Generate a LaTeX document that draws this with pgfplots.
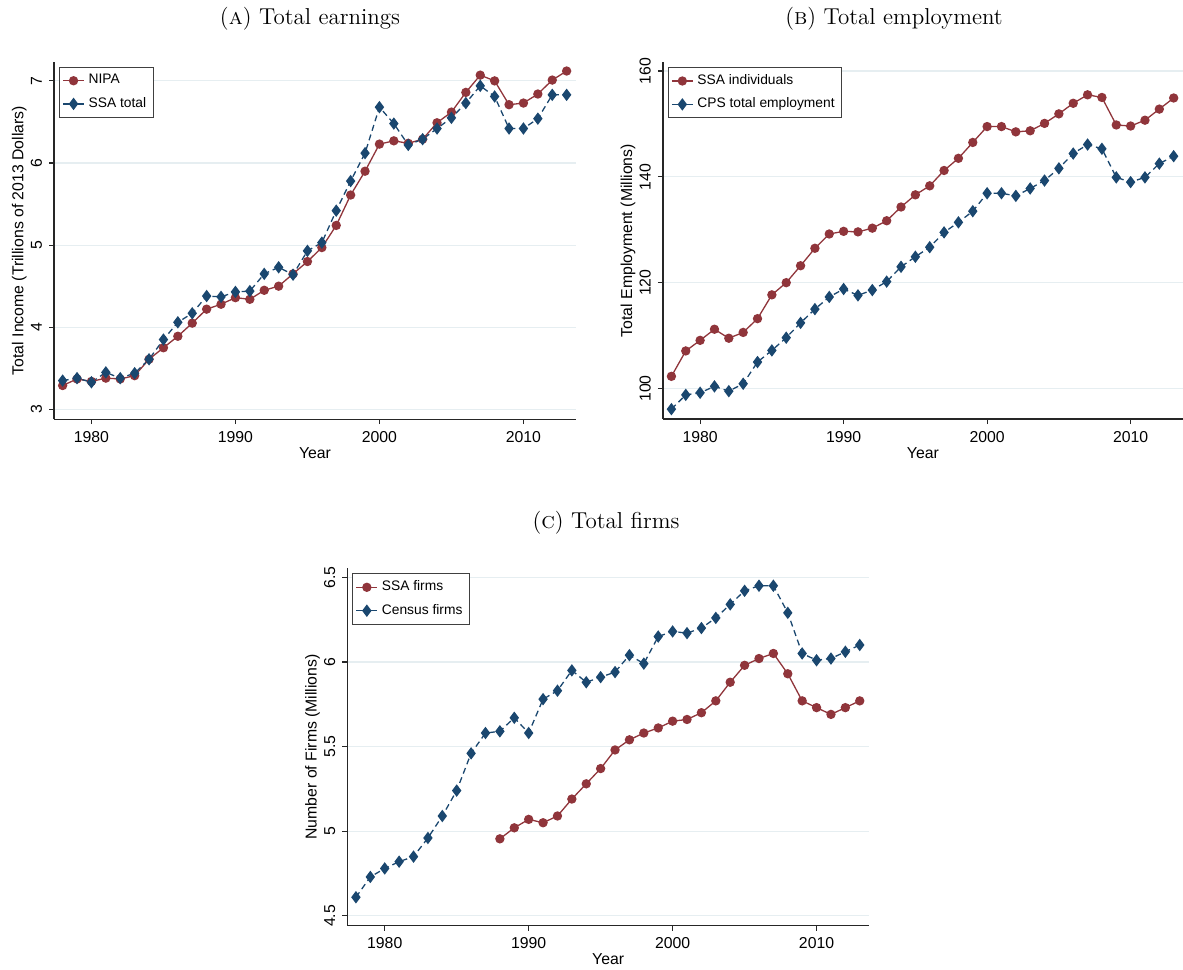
\documentclass[border=0pt]{standalone}
\usepackage{fontspec}
\setsansfont{Liberation Sans}
\usepackage{pgfplots}
\pgfplotsset{compat=1.18}
\definecolor{sred}{RGB}{144,53,59}
\definecolor{sblue}{RGB}{26,71,111}
\definecolor{gridc}{RGB}{230,238,241}
\pgfplotsset{
  stata/.style={
    scale only axis,
    height=178.6pt,
    axis lines*=left,
    axis line style={line width=0.7pt, black!85},
    xmin=1977.4, xmax=2013.65,
    xtick={1980,1990,2000,2010},
    xticklabel style={/pgf/number format/1000 sep={}},
    /pgf/number format/assume math mode=true,
    tick align=outside,
    major tick length=2.5pt,
    tick style={line width=0.6pt, black!85},
    ymajorgrids,
    grid style={color=gridc, line width=0.6pt},
    yticklabel style={rotate=90, anchor=south},
    tick label style={font=\sffamily\fontsize{7.9}{9}\selectfont},
    label style={font=\sffamily\fontsize{7.9}{9}\selectfont},
    xlabel={Year},
    xlabel style={yshift=4.5pt},
    ylabel style={yshift=-4.8pt},
    legend style={at={(axis description cs:0,1)}, anchor=north west,
      xshift=2.5pt, yshift=-2.5pt, draw=black!75, fill=white, line width=0.5pt,
      font=\sffamily\fontsize{6.9}{7.8}\selectfont, cells={anchor=west},
      inner sep=1.5pt, row sep=1.2pt},
    legend image code/.code={%
      \draw[mark repeat=2,mark phase=2,#1,solid]
        plot coordinates {(0pt,0pt)(5.2pt,0pt)(10.4pt,0pt)};},
  },
  sr/.style={color=sred, line width=0.65pt, mark=*, mark size=2pt, mark options={solid, fill=sred}},
  sb/.style={color=sblue, line width=0.65pt, dash pattern=on 3pt off 2pt, mark=diamond*, mark size=2.6pt, mark options={solid, fill=sblue}},
}
\begin{document}
\begin{tikzpicture}
\useasboundingbox (0pt,0pt) rectangle (591.5pt,-484.5pt);
% titles
\node[font=\fontsize{11.5}{13}\selectfont] at (155pt,-9.5pt) {(\textsc{a}) Total earnings};
\node[font=\fontsize{11.5}{13}\selectfont] at (447pt,-9.5pt) {(\textsc{b}) Total employment};
\node[font=\fontsize{11.5}{13}\selectfont] at (303pt,-261.5pt) {(\textsc{c}) Total firms};

% Panel A
\begin{axis}[stata, width=261pt, at={(27pt,-31pt)}, anchor=north west,
  ymin=2.88, ymax=7.23, ytick={3,4,5,6,7},
  ylabel={Total Income (Trillions of 2013 Dollars)}]
\addplot[sr] coordinates {
(1978,3.29)(1979,3.37)(1980,3.34)(1981,3.38)(1982,3.37)(1983,3.41)(1984,3.61)(1985,3.75)
(1986,3.89)(1987,4.05)(1988,4.22)(1989,4.28)(1990,4.36)(1991,4.34)(1992,4.45)(1993,4.50)
(1994,4.65)(1995,4.80)(1996,4.97)(1997,5.24)(1998,5.61)(1999,5.90)(2000,6.23)(2001,6.27)
(2002,6.24)(2003,6.29)(2004,6.49)(2005,6.62)(2006,6.86)(2007,7.07)(2008,7.00)(2009,6.71)
(2010,6.73)(2011,6.84)(2012,7.01)(2013,7.12)};
\addlegendentry{NIPA}
\addplot[sb] coordinates {
(1978,3.35)(1979,3.38)(1980,3.33)(1981,3.45)(1982,3.38)(1983,3.44)(1984,3.61)(1985,3.85)
(1986,4.06)(1987,4.17)(1988,4.38)(1989,4.37)(1990,4.43)(1991,4.44)(1992,4.65)(1993,4.73)
(1994,4.64)(1995,4.93)(1996,5.03)(1997,5.42)(1998,5.78)(1999,6.12)(2000,6.68)(2001,6.48)
(2002,6.22)(2003,6.29)(2004,6.42)(2005,6.55)(2006,6.73)(2007,6.94)(2008,6.81)(2009,6.42)
(2010,6.42)(2011,6.54)(2012,6.83)(2013,6.83)};
\addlegendentry{SSA total}
\end{axis}

% Panel B
\begin{axis}[stata, width=260.1pt, at={(331.4pt,-31pt)}, anchor=north west,
  ymin=94.2, ymax=161.7, ytick={100,120,140,160},
  ylabel={Total Employment (Millions)}]
\addplot[sr] coordinates {
(1978,102.3)(1979,107.1)(1980,109.1)(1981,111.2)(1982,109.5)(1983,110.6)(1984,113.2)(1985,117.7)
(1986,120.0)(1987,123.2)(1988,126.5)(1989,129.2)(1990,129.7)(1991,129.6)(1992,130.3)(1993,131.7)
(1994,134.3)(1995,136.6)(1996,138.3)(1997,141.2)(1998,143.5)(1999,146.5)(2000,149.5)(2001,149.5)
(2002,148.5)(2003,148.7)(2004,150.1)(2005,151.9)(2006,153.9)(2007,155.5)(2008,155.0)(2009,149.8)
(2010,149.6)(2011,150.7)(2012,152.8)(2013,154.9)};
\addlegendentry{SSA individuals}
\addplot[sb] coordinates {
(1978,96.1)(1979,98.8)(1980,99.2)(1981,100.4)(1982,99.5)(1983,100.9)(1984,105.0)(1985,107.2)
(1986,109.6)(1987,112.4)(1988,115.0)(1989,117.3)(1990,118.8)(1991,117.6)(1992,118.6)(1993,120.2)
(1994,123.0)(1995,124.9)(1996,126.7)(1997,129.5)(1998,131.4)(1999,133.5)(2000,136.9)(2001,136.9)
(2002,136.4)(2003,137.8)(2004,139.3)(2005,141.6)(2006,144.4)(2007,146.1)(2008,145.3)(2009,139.9)
(2010,139.0)(2011,139.9)(2012,142.5)(2013,143.9)};
\addlegendentry{CPS total employment}
\end{axis}

% Panel C
\begin{axis}[stata, width=260.9pt, at={(173.65pt,-284.15pt)}, anchor=north west,
  ymin=4.443, ymax=6.553, ytick={4.5,5,5.5,6,6.5},
  ylabel={Number of Firms (Millions)}]
\addplot[sr] coordinates {
(1988,4.955)(1989,5.02)(1990,5.07)(1991,5.05)(1992,5.09)(1993,5.19)(1994,5.28)(1995,5.37)
(1996,5.48)(1997,5.54)(1998,5.58)(1999,5.61)(2000,5.65)(2001,5.66)(2002,5.70)(2003,5.77)
(2004,5.88)(2005,5.98)(2006,6.02)(2007,6.05)(2008,5.93)(2009,5.77)(2010,5.73)(2011,5.69)
(2012,5.73)(2013,5.77)};
\addlegendentry{SSA firms}
\addplot[sb] coordinates {
(1978,4.61)(1979,4.73)(1980,4.78)(1981,4.82)(1982,4.85)(1983,4.96)(1984,5.09)(1985,5.24)
(1986,5.46)(1987,5.58)(1988,5.59)(1989,5.67)(1990,5.58)(1991,5.78)(1992,5.83)(1993,5.95)
(1994,5.88)(1995,5.91)(1996,5.94)(1997,6.04)(1998,5.99)(1999,6.15)(2000,6.18)(2001,6.17)
(2002,6.20)(2003,6.26)(2004,6.34)(2005,6.42)(2006,6.45)(2007,6.45)(2008,6.29)(2009,6.05)
(2010,6.01)(2011,6.02)(2012,6.06)(2013,6.10)};
\addlegendentry{Census firms}
\end{axis}
\end{tikzpicture}
\end{document}
